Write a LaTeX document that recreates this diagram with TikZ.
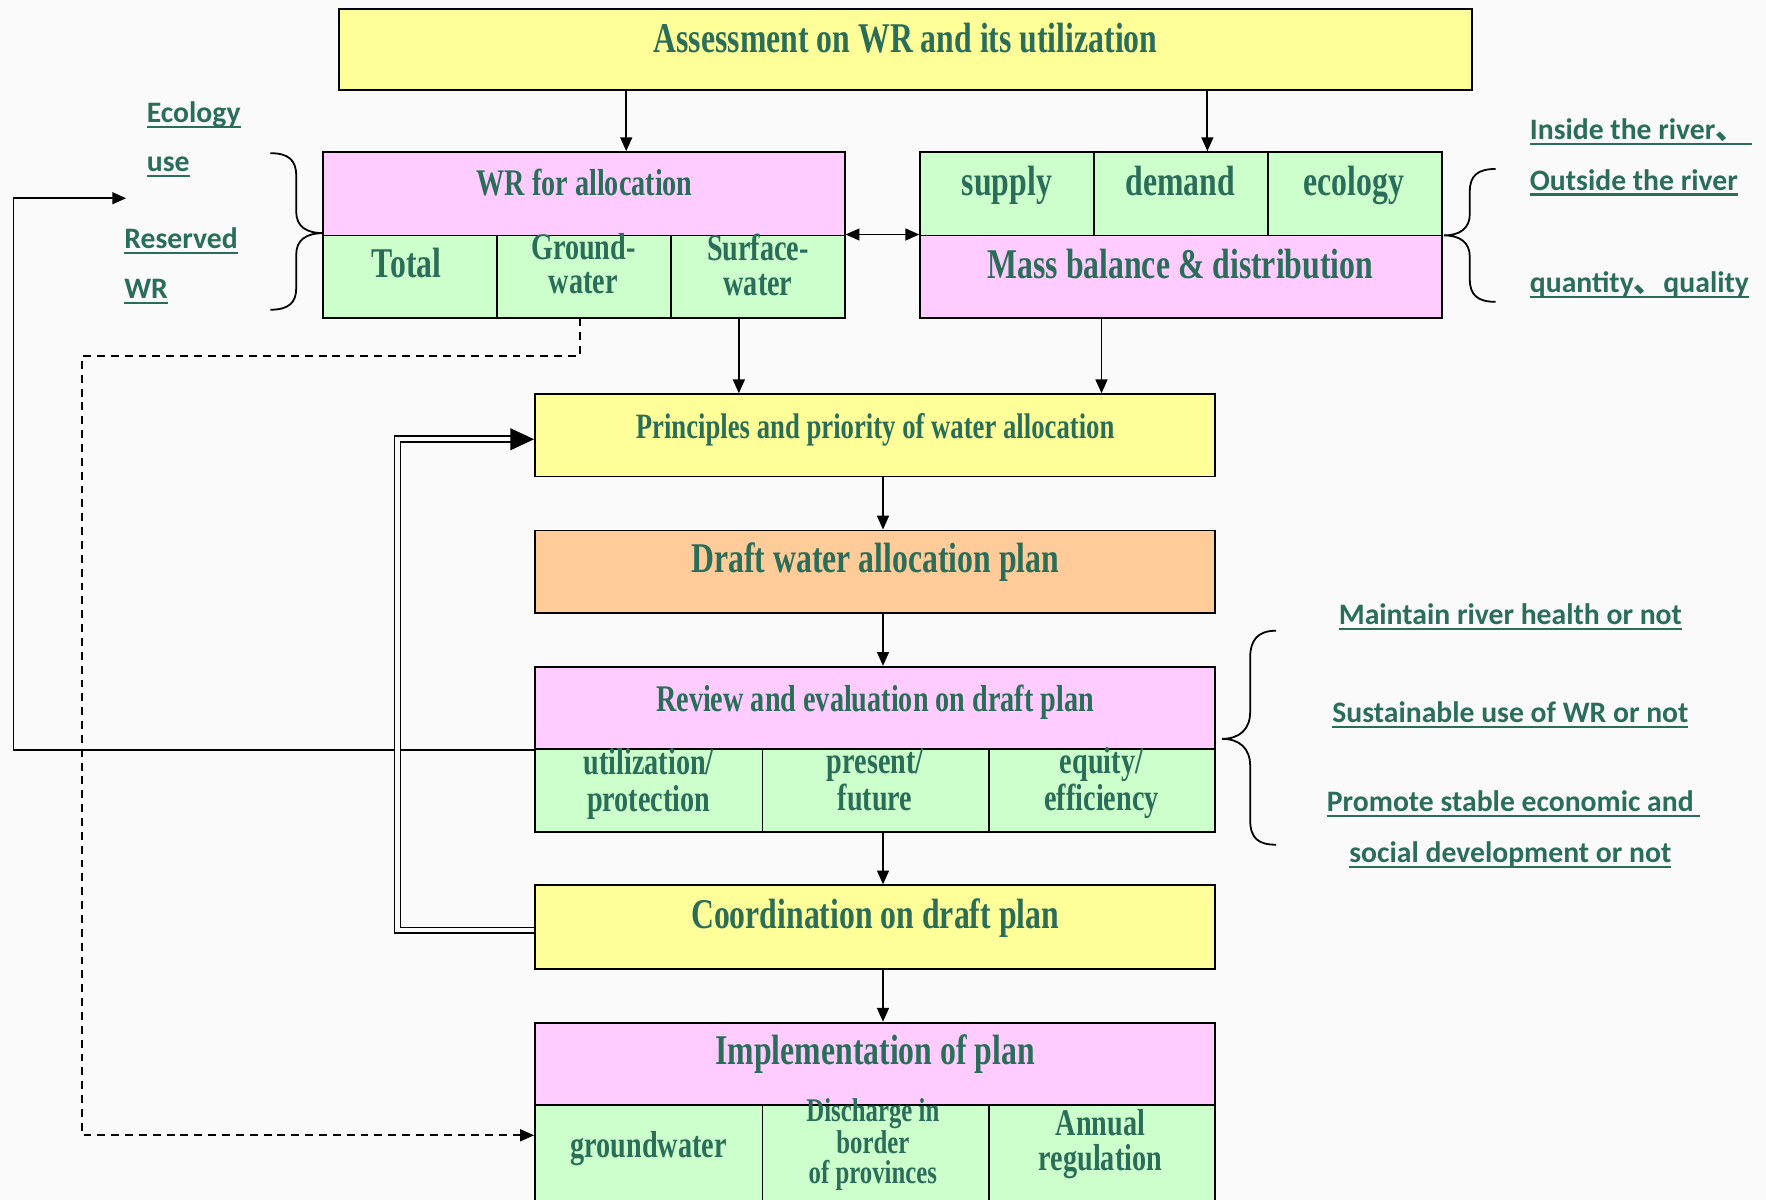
\documentclass[tikz,border=0pt]{standalone}
\usepackage{fontspec}
\usetikzlibrary{arrows.meta,fit,calc}
\newfontfamily\tnr{Liberation Serif}[FakeStretch=0.75]
\newfontfamily\calfont{Carlito}
\newfontfamily\cjkfont{Noto Sans CJK SC}
\definecolor{txtgreen}{RGB}{42,110,90}
\definecolor{yelF}{HTML}{FFFF99}
\definecolor{pinkF}{HTML}{FFCCFF}
\definecolor{greenF}{HTML}{CCFFCC}
\definecolor{orangeF}{HTML}{FFCC99}
\definecolor{bgc}{HTML}{FAFAFA}
\newlength\ulw
\newcommand\myul[1]{\settowidth\ulw{#1}\rlap{\rule[-2.8pt]{\ulw}{1.1pt}}#1}
\tikzset{
  box/.style={draw=black, line width=0.9pt, inner sep=0pt},
  yel/.style={box, fill=yelF},
  pnk/.style={box, fill=pinkF},
  grn/.style={box, fill=greenF},
  org/.style={box, fill=orangeF},
  tL/.style={font=\tnr\bfseries\fontsize{21.4}{24}\selectfont, text=txtgreen, inner sep=0pt, text height=1.06em, text depth=0em},
  tM/.style={font=\tnr\bfseries\fontsize{19}{21}\selectfont, text=txtgreen, inner sep=0pt, text height=1.06em, text depth=0em},
  tML/.style={font=\tnr\bfseries\fontsize{19}{#1}\selectfont, text=txtgreen, inner sep=0pt, align=center},
  side/.style={font=\calfont\bfseries\fontsize{15}{18}\selectfont, text=txtgreen, inner sep=0pt},
  arr/.style={-{Triangle[length=7pt,width=6pt]}, line width=0.9pt},
  arrs/.style={{Triangle[length=7pt,width=6pt]}-{Triangle[length=7pt,width=6pt]}, line width=0.9pt},
  brace/.style={line width=0.9pt},
  dblline/.style={draw=black, double=bgc, double distance=2.2pt, line width=0.8pt},
}
\begin{document}
\begin{tikzpicture}[x=0.02cm, y=-0.02cm]
\path[use as bounding box] (0,0) rectangle (1568,1065);
\clip (0,0) rectangle (1568,1065);
\fill[bgc] (0,0) rectangle (1568,1065);

% top
\node[yel, fit={(301,8)(1307,80)}] (assess) {};
\node[tL] (assessT) at (804,37) {Assessment on WR and its utilization};

% WR group
\node[pnk, fit={(287,135)(750,209)}] (wrP) {};
\node[tM] (wrPt) at (519,164) {WR for allocation};
\node[grn, fit={(287,209)(441,282)}] (wrT) {};
\node[tL] (wrTt) at (361,237) {Total};
\node[grn, fit={(441,209)(596,282)}] (wrG) {};
\node[tML=17.5pt] (wrGt) at (518,234) {Ground-\\water};
\node[grn, fit={(596,209)(750,282)}] (wrS) {};
\node[tML=17.5pt] (wrSt) at (673,235) {Surface-\\water};

% right group
\node[grn, fit={(817,135)(971,209)}] (sup) {};
\node[tL] (supt) at (894,164) {supply};
\node[grn, fit={(971,135)(1126,209)}] (dem) {};
\node[tL] (demt) at (1048,164) {demand};
\node[grn, fit={(1126,135)(1280,209)}] (eco) {};
\node[tL] (ecot) at (1202,164) {ecology};
\node[pnk, fit={(817,209)(1280,282)}] (mass) {};
\node[tL] (masst) at (1048,238) {Mass balance \& distribution};

% middle column
\node[yel, fit={(475,350)(1079,423)}] (princ) {};
\node[tM, font=\tnr\bfseries\fontsize{18}{20}\selectfont] (princt) at (777,380) {Principles and priority of water allocation};
\node[org, fit={(475,471)(1079,544)}] (draft) {};
\node[tL] (draftt) at (777,499) {Draft water allocation plan};
\node[pnk, fit={(475,592)(1079,665)}] (revP) {};
\node[tM] (revPt) at (777,622) {Review and evaluation on draft plan};
\node[grn, fit={(475,665)(677,739)}] (revA) {};
\node[tML=18.7pt] (revAt) at (576,696) {utilization/\\protection};
\node[grn, fit={(677,665)(878,739)}] (revB) {};
\node[tML=18.7pt] (revBt) at (777,692) {present/\\future};
\node[grn, fit={(878,665)(1079,739)}] (revC) {};
\node[tML=18.7pt] (revCt) at (978,695) {equity/\\efficiency};
\node[yel, fit={(475,786)(1079,860)}] (coord) {};
\node[tL] (coordt) at (777,815) {Coordination on draft plan};
\node[pnk, fit={(475,908)(1079,981)}] (impP) {};
\node[tL] (impPt) at (777,936) {Implementation of plan};
\node[grn, fit={(475,981)(677,1090)}] (impA) {};
\node[tM] (impAt) at (576,1018) {groundwater};
\node[grn, fit={(677,981)(878,1090)}] (impB) {};
\node[tML=15pt, font=\tnr\bfseries\fontsize{16.7}{15}\selectfont] (impBt) at (775,1016) {Discharge in\\border\\of provinces};
\node[grn, fit={(878,981)(1079,1090)}] (impC) {};
\node[tML=17.5pt] (impCt) at (977,1016) {Annual\\regulation};

% braces
\draw[brace] (240,136) .. controls (256,136) and (263,142) .. (263,156) -- (263,188) .. controls (263,201) and (272,207) .. (287,207) .. controls (272,207) and (263,213) .. (263,226) -- (263,256) .. controls (263,269) and (256,275) .. (240,275);
\draw[brace] (1328,150) .. controls (1312,150) and (1305,156) .. (1305,170) -- (1305,190) .. controls (1305,203) and (1296,209) .. (1282,209) .. controls (1296,209) and (1305,215) .. (1305,228) -- (1305,248) .. controls (1305,262) and (1312,268) .. (1328,268);
\draw[brace] (1133,560) .. controls (1117,560) and (1110,568) .. (1110,584) -- (1110,632) .. controls (1110,648) and (1100,656) .. (1085,656) .. controls (1100,656) and (1110,664) .. (1110,680) -- (1110,728) .. controls (1110,744) and (1117,750) .. (1133,750);

% side labels
\node[side, anchor=west] (lEco) at (130,102) {\myul{Ecology}};
\node[side, anchor=west] (lUse) at (130,148) {\myul{use}};
\node[side, anchor=west] (lRes) at (110,214) {\myul{Reserved}};
\node[side, anchor=west] (lWR) at (110,259) {\myul{WR}};
\node[side, anchor=west] (rIn) at (1358,117) {\myul{Inside the river{\cjkfont 、}\ }};
\node[side, anchor=west] (rOut) at (1358,162) {\myul{Outside the river}};
\node[side, anchor=west] (rQ) at (1358,253) {\myul{quantity{\cjkfont 、}quality}};
\node[side] (c1) at (1341,548) {\myul{Maintain river health or not}};
\node[side] (c2) at (1341,635) {\myul{Sustainable use of WR or not}};
\node[side] (c3) at (1341,714) {\myul{Promote stable economic and\ }};
\node[side] (c4) at (1341,759) {\myul{social development or not}};

% arrows
\draw[arr] (assess.south -| 556,0) -- (wrP.north -| 556,0);
\draw[arr] (assess.south -| 1072,0) -- (dem.north -| 1072,0);
\draw[arrs] (wrS.north east) -- (mass.north west);
\draw[arr] (wrS.south -| 656,0) -- (princ.north -| 656,0);
\draw[arr] (mass.south -| 978,0) -- (princ.north -| 978,0);
\draw[arr] (princ.south -| 784,0) -- (draft.north -| 784,0);
\draw[arr] (draft.south -| 784,0) -- (revP.north -| 784,0);
\draw[arr] (revB.south -| 784,0) -- (coord.north -| 784,0);
\draw[arr] (coord.south -| 784,0) -- (impP.north -| 784,0);

% feedback solid
\coordinate (fbEnd) at (112,176);
\draw[arr] (revP.south west) -| (12,176) -- (fbEnd);

% dashed
\draw[arr, dashed, dash pattern=on 4pt off 3pt] (wrG.south -| 515,0) |- (73,316) |- (impA.west |- 0,1008);

% double line
\coordinate (dblEnd) at (princ.west |- 0,390);
\draw[dblline] (coord.west |- 0,826) -| (353,390) -- ($(dblEnd)+(-18,0)$);
\draw[-{Triangle[length=12pt,width=11pt]}, line width=0.8pt] ($(dblEnd)+(-20,0)$) -- (dblEnd);
\end{tikzpicture}
\end{document}
